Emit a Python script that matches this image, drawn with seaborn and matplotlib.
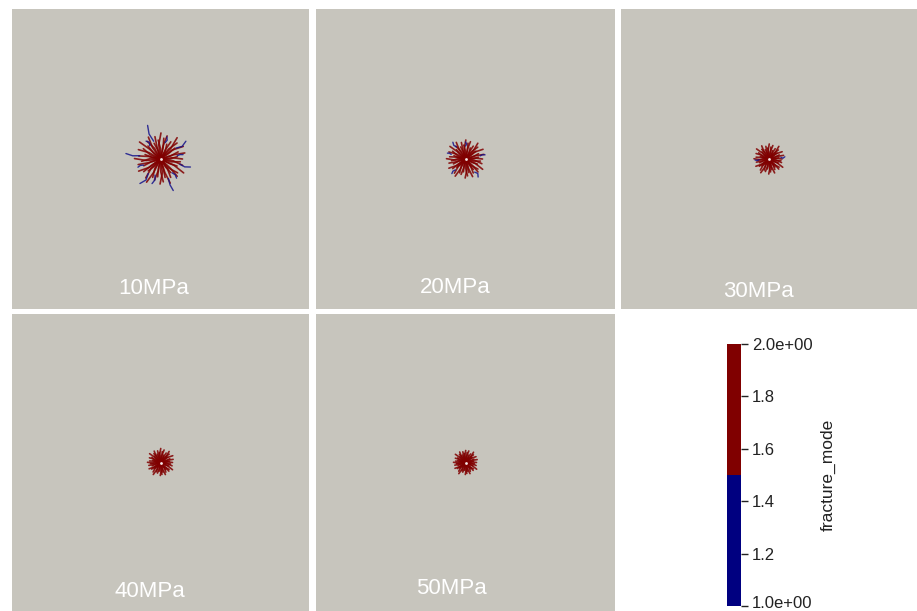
import matplotlib
matplotlib.use("Agg")
import numpy as np
import pandas as pd
import matplotlib as mpl
import matplotlib.pyplot as plt
from matplotlib.colors import ListedColormap, Normalize
from matplotlib.transforms import ScaledTranslation
import seaborn as sns

sns.set_theme(style="white")
plt.rcParams["font.family"] = ["Liberation Sans", "DejaVu Sans"]

# ---- data -------------------------------------------------------------
pressure_labels = ["10MPa", "20MPa", "30MPa", "40MPa", "50MPa"]

# directions of the tensile (mode 2) crack branches, degrees
ray_angles = [0, 8, 14, 22, 29, 37, 44, 52, 59, 67, 74, 81, 89, 97, 104, 112,
              119, 127, 134, 141, 149, 157, 164, 172, 179, 187, 194, 202, 209,
              217, 224, 232, 239, 247, 254, 261, 269, 277, 284, 292, 299, 307,
              314, 321, 329, 337, 344, 352]
# deflection of each branch half-way along its length, degrees
ray_bends = [6, -8, 4, -5, 9, -3, 7, -6, 3, -9, 5, -4, 8, -7, 2, -5, 6, -8,
             4, -3, 9, -6, 5, -4, 7, -9, 3, -5, 8, -2, 6, -7, 4, -8, 5, -3,
             9, -6, 2, -4, 7, -5, 3, -9, 6, -4, 8, -7]

# branch lengths (px of a 300 px wide model domain) per injection pressure
red_len_10 = [22, 17, 25, 19, 26, 18, 23, 27, 20, 16, 24, 21, 26, 19, 23, 17,
              25, 22, 18, 27, 20, 24, 16, 22, 26, 19, 23, 18, 25, 21, 17, 24,
              27, 20, 22, 18, 25, 23, 19, 26, 21, 17, 24, 22, 27, 18, 23, 20]
red_len_20 = [17, 13, 19, 14, 20, 13, 17, 20, 15, 12, 18, 16, 19, 14, 17, 13,
              19, 16, 13, 20, 15, 18, 12, 16, 19, 14, 17, 13, 19, 16, 12, 18,
              20, 15, 16, 13, 19, 17, 14, 19, 16, 13, 18, 16, 20, 13, 17, 15]
red_len_30 = [13, 10, 15, 11, 15, 10, 13, 16, 12, 9, 14, 12, 15, 11, 13, 10,
              15, 12, 10, 16, 12, 14, 9, 13, 15, 11, 13, 10, 15, 12, 10, 14,
              16, 12, 13, 10, 15, 13, 11, 15, 12, 10, 14, 13, 16, 10, 13, 12]
red_len_40 = [12, 9, 13, 10, 14, 9, 12, 14, 11, 8, 13, 11, 14, 10, 12, 9,
              13, 11, 9, 14, 10, 12, 8, 11, 13, 10, 12, 9, 13, 11, 9, 12,
              14, 10, 11, 9, 13, 12, 10, 13, 11, 9, 12, 11, 14, 9, 12, 10]
red_len_50 = [11, 8, 12, 9, 12, 8, 11, 13, 10, 8, 12, 10, 12, 9, 11, 8,
              12, 10, 8, 13, 9, 11, 8, 10, 12, 9, 11, 8, 12, 10, 8, 11,
              13, 9, 10, 8, 12, 11, 9, 12, 10, 8, 11, 10, 13, 8, 11, 9]
red_lengths = [red_len_10, red_len_20, red_len_30, red_len_40, red_len_50]

# shear (mode 1) crack tips: direction, inner and outer radius
blue_ang_10 = [111, 35, 171, 345, 230, 292, 251, 74, 11, 129, 310, 200]
blue_r0_10 = [19, 19, 21, 20, 19, 21, 17, 17, 17, 17, 18, 18]
blue_r1_10 = [36, 31, 35, 31, 32, 34, 26, 23, 23, 23, 25, 24]
blue_ang_20 = [127, 90, 12, 227, 305, 162]
blue_r0_20 = [15, 13, 15, 15, 16, 15]
blue_r1_20 = [21, 17, 20, 20, 22, 19]
blue_ang_30 = [184, 8]
blue_r0_30 = [10, 12]
blue_r1_30 = [14, 16]
blue_ang = [blue_ang_10, blue_ang_20, blue_ang_30, [], []]
blue_r0 = [blue_r0_10, blue_r0_20, blue_r0_30, [], []]
blue_r1 = [blue_r1_10, blue_r1_20, blue_r1_30, [], []]

mode_min, mode_max = 1.0, 2.0
cbar_ticks = [1.0, 1.2, 1.4, 1.6, 1.8, 2.0]
cbar_ticklabels = ["1.0e+00", "1.2", "1.4", "1.6", "1.8", "2.0e+00"]


def polar(r, a_deg):
    t = np.deg2rad(a_deg)
    return r * np.cos(t), r * np.sin(t)


# ---- build segment table ---------------------------------------------
rows = []
for p, label in enumerate(pressure_labels):
    rid = 0
    for a, b, r in zip(ray_angles, ray_bends, red_lengths[p]):
        rows.append((label, rid, 2, 0, 0.0, 0.0))
        rows.append((label, rid, 2, 1, *polar(0.55 * r, a + b)))
        rows.append((label, rid, 2, 2, *polar(r, a)))
        rid += 1
    for k, (a, r0, r1) in enumerate(zip(blue_ang[p], blue_r0[p], blue_r1[p])):
        b = ray_bends[k] * 0.6
        rows.append((label, rid, 1, 0, *polar(r0, a)))
        rows.append((label, rid, 1, 1, *polar(0.5 * (r0 + r1), a + b)))
        rows.append((label, rid, 1, 2, *polar(r1, a)))
        rid += 1
segments = pd.DataFrame(rows, columns=["pressure", "ray", "mode", "step",
                                       "x", "y"])

RED = "#800000"
BLUE = "#14148C"
BG = "#C7C5BD"
W, H = 917, 611

fig = plt.figure(figsize=(W / 100, H / 100), dpi=100)
fig.patch.set_facecolor("white")

# panel boxes in pixels: left, top, width, height
panel_boxes = [(12, 9, 297, 300), (316, 9, 299, 300), (621, 9, 296, 300),
               (12, 314, 297, 297), (316, 314, 299, 297)]
label_pos = [(0.478, 0.07), (0.465, 0.073), (0.466, 0.06),
             (0.465, 0.067), (0.452, 0.077)]

for p, label in enumerate(pressure_labels):
    x0, y0, w, h = panel_boxes[p]
    ax = fig.add_axes([x0 / W, 1 - (y0 + h) / H, w / W, h / H])
    ax.set_facecolor(BG)
    sub = segments[segments["pressure"] == label]
    sns.lineplot(data=sub[sub["mode"] == 2], x="x", y="y", units="ray",
                 estimator=None, sort=False, color=RED, lw=1.2,
                 alpha=0.85, ax=ax, legend=False)
    if (sub["mode"] == 1).any():
        sns.lineplot(data=sub[sub["mode"] == 1], x="x", y="y", units="ray",
                     estimator=None, sort=False, color=BLUE, lw=1.0,
                     alpha=0.85, ax=ax, legend=False)
    ax.scatter([0], [0], s=4, color="#F4E8E8", zorder=5, linewidths=0)
    ax.set_xlim(-w / 2, w / 2)
    ax.set_ylim(-h / 2, h / 2)
    ax.set_xticks([])
    ax.set_yticks([])
    ax.set_xlabel("")
    ax.set_ylabel("")
    for s in ax.spines.values():
        s.set_visible(False)
    ax.text(label_pos[p][0], label_pos[p][1], label, transform=ax.transAxes,
            ha="center", va="center", color="white", fontsize=16)

# colour legend for fracture mode
cax = fig.add_axes([727 / W, 1 - 606 / H, 14 / W, 262 / H])
cb = mpl.colorbar.ColorbarBase(cax, cmap=ListedColormap(["#000080", RED]),
                               norm=Normalize(mode_min, mode_max),
                               ticks=cbar_ticks)
cb.set_ticklabels(cbar_ticklabels)
cb.outline.set_visible(False)
cax.tick_params(axis="y", length=5, width=1, pad=3, labelsize=12,
                color="#222222", labelcolor="#222222")
# lift the lowest label so it stays inside the figure
bottom_label = cax.get_yticklabels()[0]
bottom_label.set_transform(bottom_label.get_transform()
                           + ScaledTranslation(0, 4 / 100, fig.dpi_scale_trans))
fig.text(828 / W, 1 - 475 / H, "fracture_mode", rotation=90, ha="center",
         va="center", fontsize=12.5, color="#222222")

fig.savefig("out.png", dpi=100, facecolor="white")
